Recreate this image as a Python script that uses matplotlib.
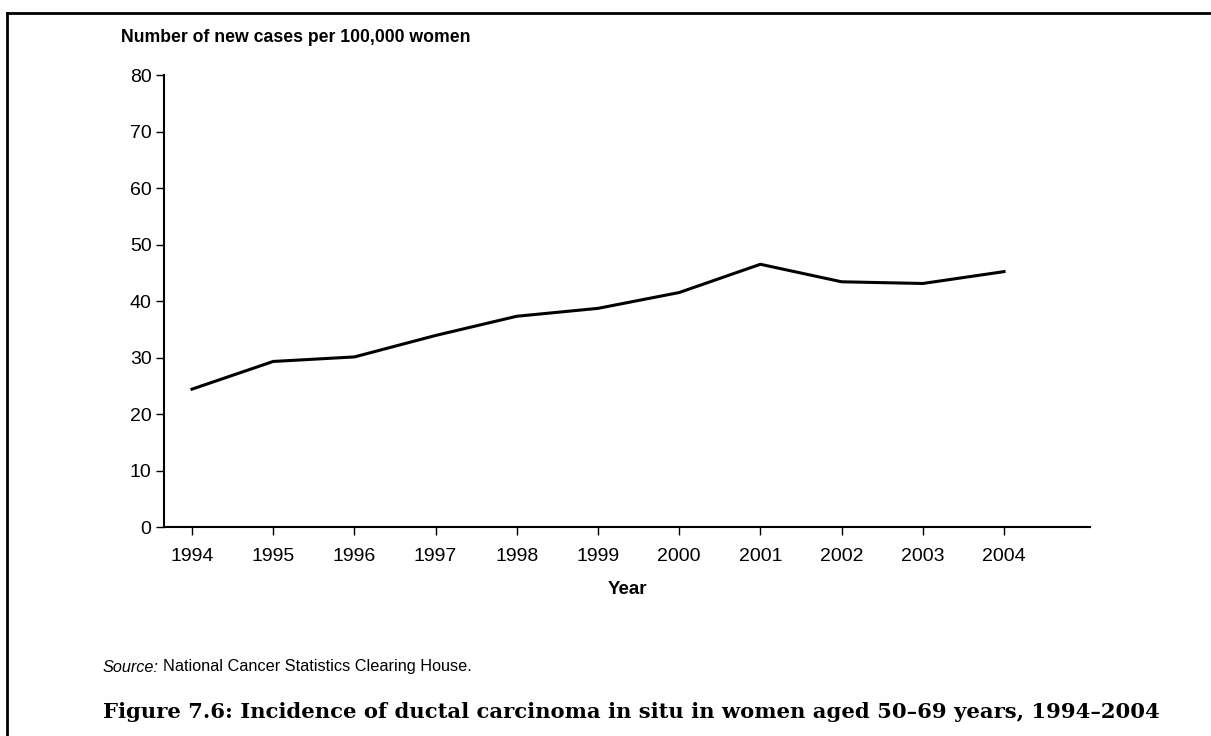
import matplotlib
matplotlib.use("Agg")
import matplotlib.pyplot as plt
from matplotlib.lines import Line2D

years = [1994, 1995, 1996, 1997, 1998, 1999, 2000, 2001, 2002, 2003, 2004]
cases = [24.4, 29.3, 30.1, 33.9, 37.3, 38.7, 41.5, 46.5, 43.4, 43.1, 45.2]
yticks = [0, 10, 20, 30, 40, 50, 60, 70, 80]

plt.rcParams['font.family'] = ['Liberation Sans', 'DejaVu Sans']

W, H = 1211, 736
fig = plt.figure(figsize=(W / 100, H / 100), dpi=100)
ax = fig.add_axes([164 / W, 1 - 527 / H, (1090 - 164) / W, (527 - 75) / H])

ax.plot(years, cases, color='black', lw=2.2, solid_joinstyle='miter')
ax.set_xlim(1994 - 28 / 81.2, 2004 + 86 / 81.2)
ax.set_ylim(0, 80)
ax.set_yticks(yticks)
ax.set_xticks(years)
for s in ['top', 'right']:
    ax.spines[s].set_visible(False)
for s in ['left', 'bottom']:
    ax.spines[s].set_linewidth(1.5)
ax.tick_params(axis='y', labelsize=14, length=6, width=1, color='black', pad=3)
ax.tick_params(axis='x', labelsize=14, length=6, width=1, color='black', pad=9)
ax.set_xlabel('Year', fontsize=13.5, fontweight='bold', labelpad=12)

fig.text(121 / W, 1 - 38 / H, 'Number of new cases per 100,000 women',
         fontsize=12.7, fontweight='bold', va='center', ha='left')
src = fig.text(103 / W, 1 - 667 / H, 'Source:', fontsize=11.7, style='italic', va='center', ha='left')
fig.canvas.draw()
bb = src.get_window_extent()
fig.text(bb.x1 / W + 4 / W, 1 - 667 / H, 'National Cancer Statistics Clearing House.', fontsize=11.7,
         va='center', ha='left')
fig.text(103 / W, 1 - 712 / H,
         'Figure 7.6: Incidence of ductal carcinoma in situ in women aged 50\u201369 years, 1994\u20132004',
         fontsize=15.2, fontweight='bold', family=['DejaVu Serif'],
         va='center', ha='left')

fig.add_artist(Line2D([7 / W, 7 / W], [0, 1 - 13 / H], transform=fig.transFigure, color='black', lw=2))
fig.add_artist(Line2D([7 / W, 1], [1 - 13 / H, 1 - 13 / H], transform=fig.transFigure, color='black', lw=2))

fig.savefig('out.png', dpi=100)
